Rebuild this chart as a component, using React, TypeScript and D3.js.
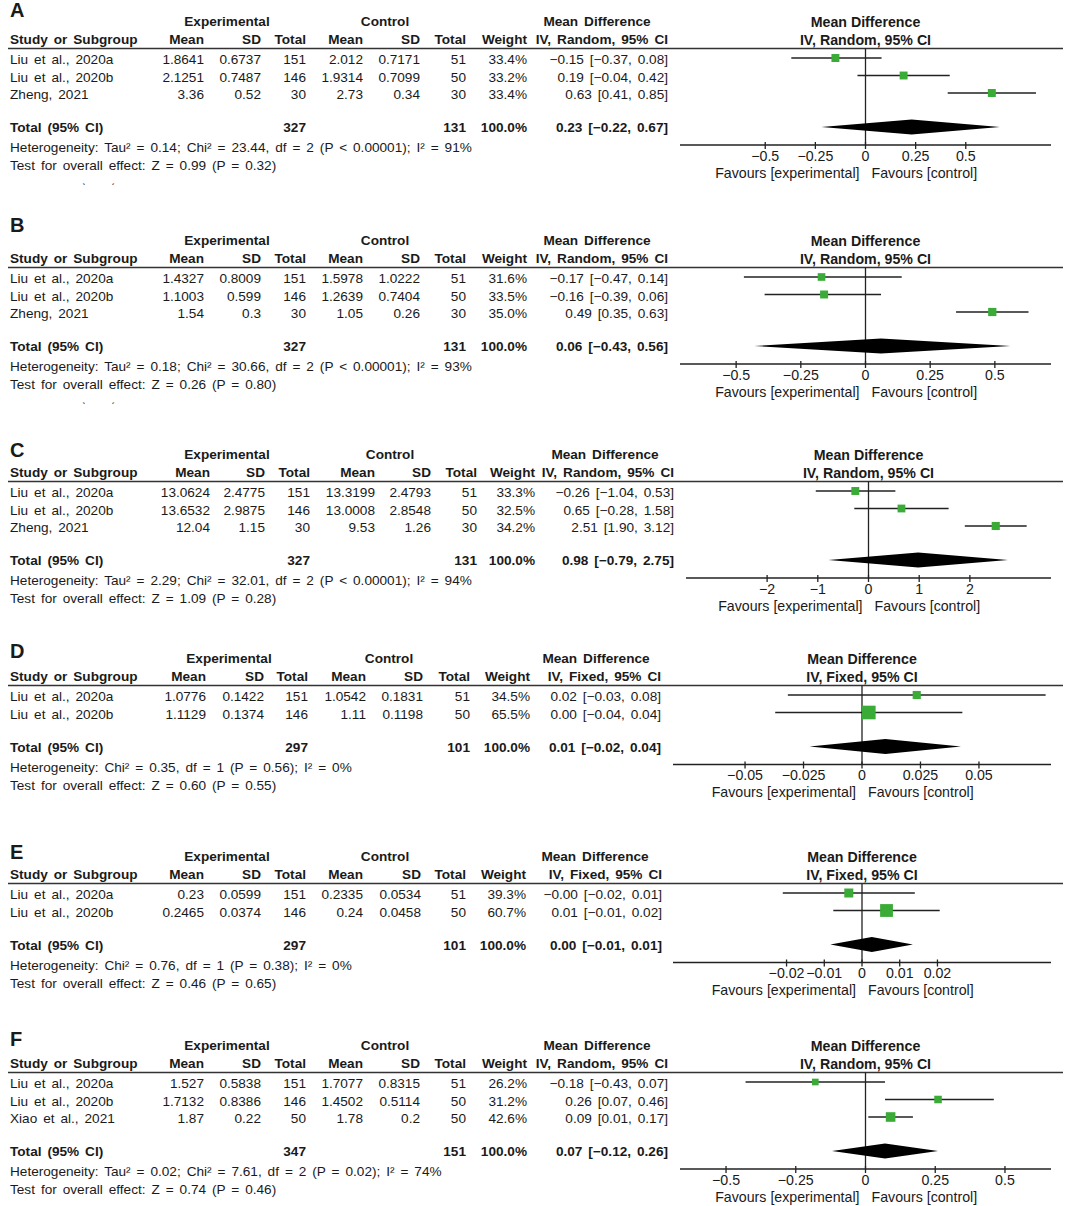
import React from "react";
import * as d3 from "d3";

// ---------------- DATA ----------------
const panelLetters = ["A", "B", "C", "D", "E", "F"];
const studyNames = [
  ["Liu et al., 2020a", "Liu et al., 2020b", "Zheng, 2021"],
  ["Liu et al., 2020a", "Liu et al., 2020b", "Zheng, 2021"],
  ["Liu et al., 2020a", "Liu et al., 2020b", "Zheng, 2021"],
  ["Liu et al., 2020a", "Liu et al., 2020b"],
  ["Liu et al., 2020a", "Liu et al., 2020b"],
  ["Liu et al., 2020a", "Liu et al., 2020b", "Xiao et al., 2021"],
];
const expMean = [
  [1.8641, 2.1251, 3.36],
  [1.4327, 1.1003, 1.54],
  [13.0624, 13.6532, 12.04],
  [1.0776, 1.1129],
  [0.23, 0.2465],
  [1.527, 1.7132, 1.87],
];
const expSD = [
  [0.6737, 0.7487, 0.52],
  [0.8009, 0.599, 0.3],
  [2.4775, 2.9875, 1.15],
  [0.1422, 0.1374],
  [0.0599, 0.0374],
  [0.5838, 0.8386, 0.22],
];
const expN = [
  [151, 146, 30],
  [151, 146, 30],
  [151, 146, 30],
  [151, 146],
  [151, 146],
  [151, 146, 50],
];
const ctrlMean = [
  [2.012, 1.9314, 2.73],
  [1.5978, 1.2639, 1.05],
  [13.3199, 13.0008, 9.53],
  [1.0542, 1.11],
  [0.2335, 0.24],
  [1.7077, 1.4502, 1.78],
];
const ctrlSD = [
  [0.7171, 0.7099, 0.34],
  [1.0222, 0.7404, 0.26],
  [2.4793, 2.8548, 1.26],
  [0.1831, 0.1198],
  [0.0534, 0.0458],
  [0.8315, 0.5114, 0.2],
];
const ctrlN = [
  [51, 50, 30],
  [51, 50, 30],
  [51, 50, 30],
  [51, 50],
  [51, 50],
  [51, 50, 50],
];
const weights = [
  [33.4, 33.2, 33.4],
  [31.6, 33.5, 35.0],
  [33.3, 32.5, 34.2],
  [34.5, 65.5],
  [39.3, 60.7],
  [26.2, 31.2, 42.6],
];
const meanDiff = [
  [-0.15, 0.19, 0.63],
  [-0.17, -0.16, 0.49],
  [-0.26, 0.65, 2.51],
  [0.0234, 0.0029],
  [-0.0035, 0.0065],
  [-0.18, 0.26, 0.09],
];
const ciLow = [
  [-0.37, -0.04, 0.41],
  [-0.47, -0.39, 0.35],
  [-1.04, -0.28, 1.9],
  [-0.0317, -0.0371],
  [-0.021, -0.0076],
  [-0.43, 0.07, 0.01],
];
const ciHigh = [
  [0.08, 0.42, 0.85],
  [0.14, 0.06, 0.63],
  [0.53, 1.58, 3.12],
  [0.0785, 0.0429],
  [0.014, 0.0206],
  [0.07, 0.46, 0.17],
];
const modelNames = ["Random", "Random", "Random", "Fixed", "Fixed", "Random"];
const totalExpN = [327, 327, 327, 297, 297, 347];
const totalCtrlN = [131, 131, 131, 101, 101, 151];
const totalMD = [0.23, 0.06, 0.98, 0.01, 0.0026, 0.07];
const totalLow = [-0.22, -0.43, -0.79, -0.0224, -0.0084, -0.12];
const totalHigh = [0.67, 0.56, 2.75, 0.0423, 0.0135, 0.26];
const heterogeneity = [
  "Heterogeneity: Tau² = 0.14; Chi² = 23.44, df = 2 (P < 0.00001); I² = 91%",
  "Heterogeneity: Tau² = 0.18; Chi² = 30.66, df = 2 (P < 0.00001); I² = 93%",
  "Heterogeneity: Tau² = 2.29; Chi² = 32.01, df = 2 (P < 0.00001); I² = 94%",
  "Heterogeneity: Chi² = 0.35, df = 1 (P = 0.56); I² = 0%",
  "Heterogeneity: Chi² = 0.76, df = 1 (P = 0.38); I² = 0%",
  "Heterogeneity: Tau² = 0.02; Chi² = 7.61, df = 2 (P = 0.02); I² = 74%",
];
const overallEffect = [
  "Test for overall effect: Z = 0.99 (P = 0.32)",
  "Test for overall effect: Z = 0.26 (P = 0.80)",
  "Test for overall effect: Z = 1.09 (P = 0.28)",
  "Test for overall effect: Z = 0.60 (P = 0.55)",
  "Test for overall effect: Z = 0.46 (P = 0.65)",
  "Test for overall effect: Z = 0.74 (P = 0.46)",
];
const axisTicks = [
  [-0.5, -0.25, 0, 0.25, 0.5],
  [-0.5, -0.25, 0, 0.25, 0.5],
  [-2, -1, 0, 1, 2],
  [-0.05, -0.025, 0, 0.025, 0.05],
  [-0.02, -0.01, 0, 0.01, 0.02],
  [-0.5, -0.25, 0, 0.25, 0.5],
];
const axisMax = [0.925, 0.717, 3.6, 0.0808, 0.0501, 0.665];

// ---------------- LAYOUT ----------------
const W = 1065;
const H = 1206;
const panelTop = [40, 259, 473, 677, 875, 1064];
const letterY = [10, 225, 450, 651, 852, 1039];
const colStd = { cols: [204, 261, 306, 363, 420, 466, 527, 668], exp: 227, ctrl: 385, md: 597 };
const colLayouts = [
  colStd,
  colStd,
  { cols: [210, 265, 310, 375, 431, 477, 535, 674], exp: 227, ctrl: 390, md: 605 },
  { cols: [206, 264, 308, 366, 423, 470, 530, 661], exp: 229, ctrl: 389, md: 596 },
  { cols: [204, 261, 306, 363, 421, 466, 526, 662], exp: 227, ctrl: 385, md: 595 },
  colStd,
];
const axisLeft = [680, 680, 686, 673, 673, 680];
const axisRight = 1051;

const SANS = "'Liberation Sans', Arial, sans-serif";
const TFS = 12.6;
const TSX = 1.08;
const WSP = 2;
const PFS = 14.2;
const INK = "#1a1a1a";
const GREEN = "#3aab37";

const fmt2 = (v: number) =>
  (v < 0 ? "\u2212" : "") + (Math.round(Math.abs(v) * 100 + 1e-7) / 100).toFixed(2);
const fmtTick = (t: number) => (t < 0 ? "\u2212" + Math.abs(t) : String(t));

const sizeScale = d3.scaleLinear().domain([0, 100]).range([2, 19.8]);

function T(props: any) {
  const { x, y, anchor = "start", bold = false, plot = false, size, children } = props;
  const sx = plot ? 1 : TSX;
  const fs = size ?? (plot ? PFS : TFS);
  return (
    <text
      transform={`translate(${x},${y}) scale(${sx},1)`}
      dy="0.35em"
      textAnchor={anchor}
      fontFamily={SANS}
      fontSize={fs}
      fontWeight={bold ? "bold" : "normal"}
      fill={INK}
      style={plot ? undefined : { wordSpacing: `${WSP}px` }}
    >
      {children}
    </text>
  );
}

function Panel({ i }: { i: number }) {
  const top = panelTop[i];
  const L = colLayouts[i];
  const c = L.cols;
  const n = studyNames[i].length;
  const rowY = (k: number) => top + 20 + 17.5 * k;
  const totalY = rowY(n - 1) + 33;
  const hetY = totalY + 20;
  const testY = totalY + 38;
  const axisY = totalY + 17;
  const lineY = top + 8.5;
  const x = d3.scaleLinear().domain([-axisMax[i], axisMax[i]]).range([axisLeft[i], axisRight]);
  const x0 = x(0);
  const model = modelNames[i];
  const h1 = top - 18;

  return (
    <g>
      <text x={10} y={letterY[i]} dy="0.35em" fontFamily={SANS} fontSize={20} fontWeight="bold" fill={INK}>
        {panelLetters[i]}
      </text>
      {/* header row 1 */}
      <T x={L.exp} y={h1} anchor="middle" bold>Experimental</T>
      <T x={L.ctrl} y={h1} anchor="middle" bold>Control</T>
      <T x={L.md} y={h1} anchor="middle" bold>Mean Difference</T>
      <T x={x0} y={h1} anchor="middle" bold plot>Mean Difference</T>
      {/* header row 2 */}
      <T x={10} y={top} bold>Study or Subgroup</T>
      <T x={c[0]} y={top} anchor="end" bold>Mean</T>
      <T x={c[1]} y={top} anchor="end" bold>SD</T>
      <T x={c[2]} y={top} anchor="end" bold>Total</T>
      <T x={c[3]} y={top} anchor="end" bold>Mean</T>
      <T x={c[4]} y={top} anchor="end" bold>SD</T>
      <T x={c[5]} y={top} anchor="end" bold>Total</T>
      <T x={c[6]} y={top} anchor="end" bold>Weight</T>
      <T x={c[7]} y={top} anchor="end" bold>{`IV, ${model}, 95% CI`}</T>
      <T x={x0} y={top} anchor="middle" bold plot>{`IV, ${model}, 95% CI`}</T>
      <line x1={8} x2={1063} y1={lineY} y2={lineY} stroke="#333" strokeWidth={1.4} />

      {/* zero line */}
      <line x1={x0} x2={x0} y1={lineY} y2={axisY} stroke="#222" strokeWidth={1.3} />

      {/* study rows */}
      {studyNames[i].map((name, k) => {
        const y = rowY(k);
        const s = sizeScale(weights[i][k]);
        const md = meanDiff[i][k];
        return (
          <g key={k}>
            <T x={10} y={y}>{name}</T>
            <T x={c[0]} y={y} anchor="end">{String(expMean[i][k])}</T>
            <T x={c[1]} y={y} anchor="end">{String(expSD[i][k])}</T>
            <T x={c[2]} y={y} anchor="end">{String(expN[i][k])}</T>
            <T x={c[3]} y={y} anchor="end">{String(ctrlMean[i][k])}</T>
            <T x={c[4]} y={y} anchor="end">{String(ctrlSD[i][k])}</T>
            <T x={c[5]} y={y} anchor="end">{String(ctrlN[i][k])}</T>
            <T x={c[6]} y={y} anchor="end">{weights[i][k].toFixed(1) + "%"}</T>
            <T x={c[7]} y={y} anchor="end">{`${fmt2(md)} [${fmt2(ciLow[i][k])}, ${fmt2(ciHigh[i][k])}]`}</T>
            <line x1={x(ciLow[i][k])} x2={x(ciHigh[i][k])} y1={y - 2} y2={y - 2} stroke="#222" strokeWidth={1.3} />
            <rect x={x(md) - s / 2} y={y - 2 - s / 2} width={s} height={s} fill={GREEN} />
          </g>
        );
      })}

      {/* total */}
      <T x={10} y={totalY} bold>Total (95% CI)</T>
      <T x={c[2]} y={totalY} anchor="end" bold>{String(totalExpN[i])}</T>
      <T x={c[5]} y={totalY} anchor="end" bold>{String(totalCtrlN[i])}</T>
      <T x={c[6]} y={totalY} anchor="end" bold>100.0%</T>
      <T x={c[7]} y={totalY} anchor="end" bold>{`${fmt2(totalMD[i])} [${fmt2(totalLow[i])}, ${fmt2(totalHigh[i])}]`}</T>
      <path
        d={`M${x(totalLow[i])},${totalY - 1} L${x(totalMD[i])},${totalY - 8.5} L${x(totalHigh[i])},${totalY - 1} L${x(totalMD[i])},${totalY + 6.5} Z`}
        fill="#000"
      />
      <T x={10} y={hetY}>{heterogeneity[i]}</T>
      <T x={10} y={testY}>{overallEffect[i]}</T>

      {/* axis */}
      <line x1={axisLeft[i]} x2={axisRight} y1={axisY} y2={axisY} stroke="#222" strokeWidth={1.3} />
      {axisTicks[i].map((t, k) => (
        <g key={k}>
          <line x1={x(t)} x2={x(t)} y1={axisY - 3} y2={axisY + 4} stroke="#222" strokeWidth={1.3} />
          <T x={x(t)} y={axisY + 11} anchor="middle" plot>{fmtTick(t)}</T>
        </g>
      ))}
      <T x={x0 - 6} y={axisY + 28} anchor="end" plot>Favours [experimental]</T>
      <T x={x0 + 6} y={axisY + 28} plot>Favours [control]</T>
      {i < 2 && (
        <g>
          <T x={84} y={testY + 22} anchor="middle" size={11}>ˋ</T>
          <T x={113} y={testY + 22} anchor="middle" size={11}>ˊ</T>
        </g>
      )}
    </g>
  );
}

export default function App() {
  return (
    <svg
      width={W}
      height={H}
      viewBox={`0 0 ${W} ${H}`}
      style={{ position: "absolute", left: 0, top: 0, background: "#fff" }}
    >
      <rect x={0} y={0} width={W} height={H} fill="#fff" />
      {panelLetters.map((_, i) => (
        <Panel key={i} i={i} />
      ))}
    </svg>
  );
}
